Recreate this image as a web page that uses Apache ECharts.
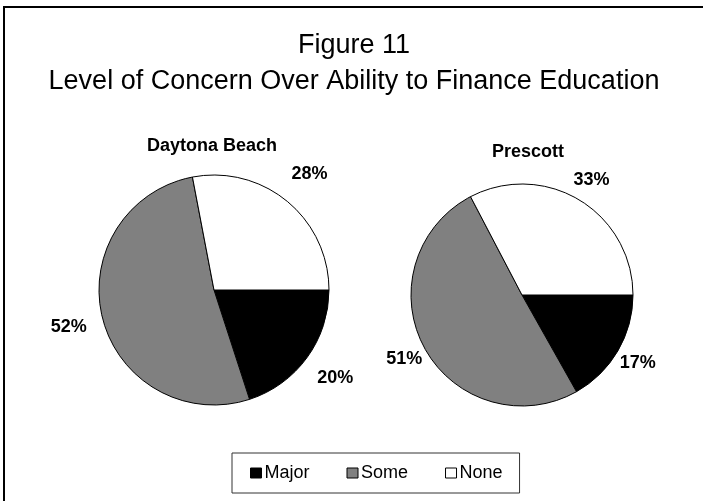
<!DOCTYPE html>
<html>
<head>
<meta charset="utf-8">
<script src="https://cdn.jsdelivr.net/npm/echarts@6/dist/echarts.min.js"></script>
<style>
  html, body { margin: 0; padding: 0; background: #fff; }
  #chart { width: 703px; height: 501px; }
</style>
</head>
<body>
<div id="chart"></div>
<script>
// data
const categories = ["Major", "Some", "None"];
const daytonaValues = [20, 52, 28];
const prescottValues = [17, 51, 33];
const sliceColors = ["#000000", "#808080", "#ffffff"];

const font = "Arial, 'Liberation Sans', sans-serif";

function pieSlices(name, values, center, radius) {
    return {
        name: name,
        type: "pie",
        center: center,
        radius: radius,
        startAngle: 0,
        clockwise: true,
        animation: false,
        label: { show: false },
        labelLine: { show: false },
        itemStyle: { borderColor: "#000", borderWidth: 1 },
        emphasis: { disabled: true },
        data: categories.map((c, i) => ({
            name: c,
            value: values[i],
            itemStyle: { color: sliceColors[i] },
        })),
    };
}

// invisible ring just outside each pie, only used to place the % labels
function pieLabels(values, center, ring) {
    return {
        type: "pie",
        center: center,
        radius: ring,
        startAngle: 0,
        clockwise: true,
        animation: false,
        silent: true,
        legendHoverLink: false,
        label: {
            show: true,
            position: "inside",
            rotate: 0,
            formatter: "{c}%",
            fontFamily: font,
            fontWeight: "bold",
            fontSize: 18,
            color: "#000",
        },
        labelLine: { show: false },
        itemStyle: { color: "rgba(0,0,0,0)", borderWidth: 0 },
        emphasis: { disabled: true },
        data: categories.map((c, i) => ({ name: c + " ", value: values[i] })),
    };
}

const subTitle = { fontFamily: font, fontWeight: "bold", fontSize: 18, color: "#000" };

const chart = echarts.init(document.getElementById("chart"));
chart.setOption({
    backgroundColor: "#fff",
    title: [
        {
            text: "Figure 11\nLevel of Concern Over Ability to Finance Education",
            left: 354,
            top: 28,
            padding: 0,
            textAlign: "center",
            textStyle: {
                fontFamily: font,
                fontWeight: "normal",
                fontSize: 27,
                lineHeight: 36,
                color: "#000",
            },
        },
        { text: "Daytona Beach", left: 212, top: 137, padding: 0, textAlign: "center", textStyle: subTitle },
        { text: "Prescott", left: 528, top: 143, padding: 0, textAlign: "center", textStyle: subTitle },
    ],
    legend: {
        data: categories,
        left: 232,
        top: 453,
        padding: [11, 17, 11, 18],
        itemGap: 37,
        itemWidth: 11,
        itemHeight: 10,
        borderColor: "#333",
        borderWidth: 1,
        icon: "rect",
        itemStyle: { borderColor: "#000", borderWidth: 1 },
        textStyle: { fontFamily: font, fontSize: 18, color: "#000", padding: [0, 0, 0, -2] },
        selectedMode: false,
    },
    graphic: [
        {
            type: "rect",
            shape: { x: 4, y: 7, width: 900, height: 900 },
            style: { fill: null, stroke: "#000", lineWidth: 2 },
            silent: true,
        },
    ],
    series: [
        pieSlices("Daytona Beach", daytonaValues, [214, 290], 115),
        pieSlices("Prescott", prescottValues, [522, 295], 111),
        pieLabels(daytonaValues, [214, 290], [136, 158]),
        pieLabels(prescottValues, [522, 295], [120, 142]),
    ],
});
</script>
</body>
</html>
